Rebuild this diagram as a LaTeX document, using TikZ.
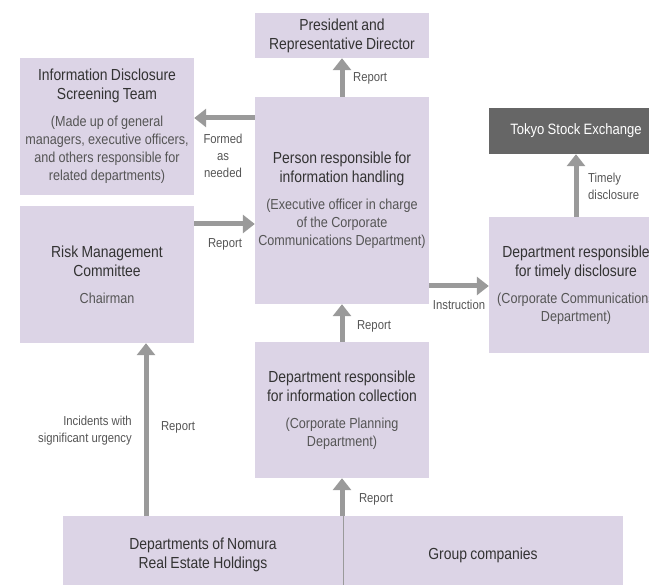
\documentclass[tikz,border=0pt]{standalone}
\usepackage{fontspec}
\setmainfont{Liberation Sans}[FakeStretch=0.87]
\usetikzlibrary{arrows.meta}

\definecolor{boxfill}{HTML}{DCD4E6}
\definecolor{titletext}{HTML}{333333}
\definecolor{subtext}{HTML}{555555}
\definecolor{arrowgray}{HTML}{9A9A9A}
\definecolor{darkbox}{HTML}{666666}

\newcommand{\ttl}[1]{{\fontsize{16}{19}\selectfont #1\par}}
\newcommand{\subtxt}[1]{\vspace{9pt}{\color{subtext}\fontsize{14.5}{18}\selectfont #1\par}}

\tikzset{
  box/.style={fill=boxfill, text width=174pt, inner sep=0pt, align=center,
              text=titletext, anchor=center},
  flow/.style={draw=arrowgray, line width=5pt,
               -{Triangle[width=18pt,length=12pt]}},
  lbl/.style={font=\fontsize{13}{17}\selectfont, text=subtext, inner sep=0pt}
}

\begin{document}
\begin{tikzpicture}[x=1pt, y=-1pt]
\clip (0,0) rectangle (649,585);

% boxes
\node[box, minimum height=45pt] (pres) at (342,35.5)
  {\ttl{President and\\Representative Director}};
\node[box, minimum height=137pt] (screen) at (107,126.5)
  {\ttl{Information Disclosure\\Screening Team}
   \subtxt{(Made up of general\\managers, executive officers,\\and others responsible for\\related departments)}};
\node[box, minimum height=207pt] (person) at (342,200.5)
  {\ttl{Person responsible for\\information handling}
   \subtxt{(Executive officer in charge\\of the Corporate\\Communications Department)}};
\node[box, fill=darkbox, text=white, minimum height=46pt] (tse) at (576,131)
  {{\fontsize{15}{18}\selectfont Tokyo Stock Exchange\par}};
\node[box, minimum height=137pt] (risk) at (107,274.5)
  {\ttl{Risk Management\\Committee}
   \subtxt{Chairman}};
\node[box, minimum height=136pt] (timely) at (576,285)
  {\ttl{Department responsible\\for timely disclosure}
   \subtxt{(Corporate Communications\\Department)}};
\node[box, minimum height=136pt] (collect) at (342,410)
  {\ttl{Department responsible\\for information collection}
   \subtxt{(Corporate Planning\\Department)}};
\node[box, text width=280pt, minimum height=78pt] (deptL) at (203,555)
  {\ttl{Departments of Nomura\\Real Estate Holdings}};
\node[box, text width=280pt, minimum height=78pt] (deptR) at (483,555)
  {\ttl{Group companies}};
\draw[arrowgray, line width=1pt] (deptL.north east) -- (deptL.south east);

% reference levels for the horizontal connectors
\coordinate (lvlA) at (0,118);
\coordinate (lvlB) at (0,224);
\coordinate (lvlC) at (0,286);
\coordinate (riskx) at (146,0);

% connectors
\draw[flow] (person.north) -- (pres.south);
\draw[flow] (person.west |- lvlA) -- (screen.east |- lvlA);
\draw[flow] (risk.east |- lvlB) -- (person.west |- lvlB);
\draw[flow] (person.east |- lvlC) -- (timely.west |- lvlC);
\draw[flow] (timely.north) -- (tse.south);
\draw[flow] (collect.north) -- (person.south);
\draw[flow] (collect.south |- deptL.north) -- (collect.south);
\draw[flow] (riskx |- deptL.north) -- (riskx |- risk.south);

% connector labels
\node[lbl, anchor=west] (l1) at (353,78) {Report};
\node[lbl, align=center] (l2) at (223,156) {Formed\\as\\needed};
\node[lbl] (l3) at (225,244) {Report};
\node[lbl] (l4) at (459,305) {Instruction};
\node[lbl, anchor=west, align=left] (l5) at (588,186) {Timely\\disclosure};
\node[lbl] (l6) at (374,326) {Report};
\node[lbl] (l7) at (376,499) {Report};
\node[lbl] (l8) at (178,427) {Report};
\node[lbl, anchor=east, align=right] (l9) at (132,431) {Incidents with\\significant urgency};
\end{tikzpicture}
\end{document}
